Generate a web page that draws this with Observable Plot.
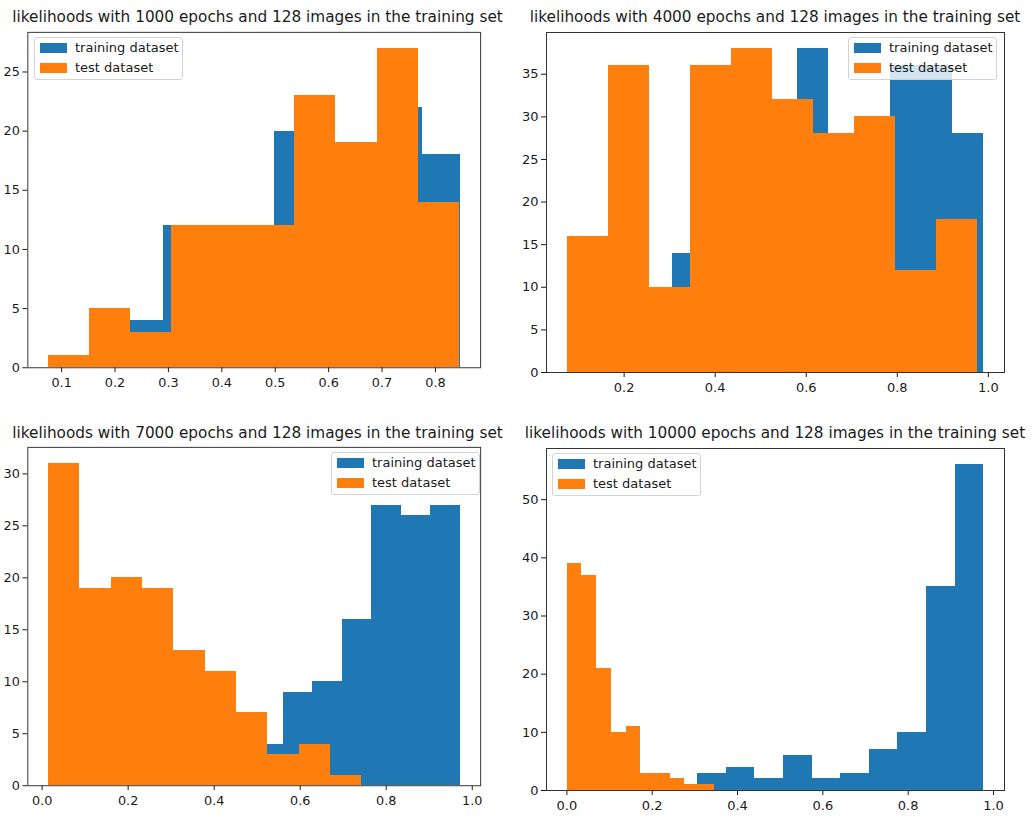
<!DOCTYPE html>
<html><head><meta charset="utf-8">
<script src="https://cdn.jsdelivr.net/npm/d3@7"></script>
<script src="https://cdn.jsdelivr.net/npm/@observablehq/plot@0.6"></script>
<style>
body{margin:0;background:#fff;font-family:"DejaVu Sans",sans-serif;}
#root{position:relative;width:1034px;height:817px;overflow:hidden;background:#fff;}
.panel{position:absolute;overflow:hidden;}
.panel svg{position:absolute;overflow:hidden;}
.title{position:absolute;white-space:nowrap;font-size:15.3px;color:#1a1a1a;line-height:20px;height:20px;transform:translateX(-50%);}
.legend{position:absolute;background:rgba(255,255,255,0.8);border:1px solid #d3d3d3;border-radius:3px;box-sizing:border-box;font-size:13px;color:#1a1a1a;}
.legend .row{position:absolute;left:0;height:14px;line-height:14px;white-space:nowrap;}
.legend .sw{position:absolute;left:5px;top:2px;width:27px;height:10px;}
.legend .lab{position:absolute;left:40px;top:0;}
</style>
</head><body><div id="root"></div>
<script>
// ---- data ----
const titles = [
  "likelihoods with 1000 epochs and 128 images in the training set",
  "likelihoods with 4000 epochs and 128 images in the training set",
  "likelihoods with 7000 epochs and 128 images in the training set",
  "likelihoods with 10000 epochs and 128 images in the training set"
];
const seriesNames = ["training dataset", "test dataset"];
const seriesColors = ["#1f77b4", "#ff7f0e"];

// histogram ranges [min, max] and counts (10 bins each)
const p1TrainRange = [0.152, 0.846];
const p1TrainCounts = [3, 4, 12, 10, 11, 20, 16, 12, 22, 18];
const p1TestRange = [0.0753, 0.8445];
const p1TestCounts = [1, 5, 3, 12, 12, 12, 23, 19, 27, 14];

const p2TrainRange = [0.3067, 0.9897];
const p2TrainCounts = [14, 20, 24, 22, 38, 20, 26, 36, 36, 28];
const p2TestRange = [0.0752, 0.9765];
const p2TestCounts = [16, 36, 10, 36, 38, 32, 28, 30, 12, 18];

const p3TrainRange = [0.2858, 0.9716];
const p3TrainCounts = [2, 3, 4, 4, 9, 10, 16, 27, 26, 27];
const p3TestRange = [0.0146, 0.7433];
const p3TestCounts = [31, 19, 20, 19, 13, 11, 7, 3, 4, 1];

const p4TrainRange = [0.3067, 0.977];
const p4TrainCounts = [3, 4, 2, 6, 2, 3, 7, 10, 35, 56];
const p4TestRange = [0.001, 0.345];
const p4TestCounts = [39, 37, 21, 10, 11, 3, 3, 2, 1, 1];

const p1XTicks = [0.1, 0.2, 0.3, 0.4, 0.5, 0.6, 0.7, 0.8];
const p1YTicks = [0, 5, 10, 15, 20, 25];
const p2XTicks = [0.2, 0.4, 0.6, 0.8, 1.0];
const p2YTicks = [0, 5, 10, 15, 20, 25, 30, 35];
const p3XTicks = [0.0, 0.2, 0.4, 0.6, 0.8, 1.0];
const p3YTicks = [0, 5, 10, 15, 20, 25, 30];
const p4XTicks = [0.0, 0.2, 0.4, 0.6, 0.8, 1.0];
const p4YTicks = [0, 10, 20, 30, 40, 50];

// ---- layout ----
const panels = [
  {title: titles[0], train: [p1TrainRange, p1TrainCounts], test: [p1TestRange, p1TestCounts], xt: p1XTicks, yt: p1YTicks,
   ax: {l: 28, t: 32, r: 487, b: 372}, clip: {x0: 0, y0: 0, x1: 512, y1: 410}, titleY: 17, legend: "left"},
  {title: titles[1], train: [p2TrainRange, p2TrainCounts], test: [p2TestRange, p2TestCounts], xt: p2XTicks, yt: p2YTicks,
   ax: {l: 546, t: 32, r: 1004, b: 372}, clip: {x0: 512, y0: 0, x1: 1034, y1: 410}, titleY: 17, legend: "right"},
  {title: titles[2], train: [p3TrainRange, p3TrainCounts], test: [p3TestRange, p3TestCounts], xt: p3XTicks, yt: p3YTicks,
   ax: {l: 28, t: 447, r: 487, b: 790}, clip: {x0: 0, y0: 412, x1: 512, y1: 817}, titleY: 433, legend: "right"},
  {title: titles[3], train: [p4TrainRange, p4TrainCounts], test: [p4TestRange, p4TestCounts], xt: p4XTicks, yt: p4YTicks,
   ax: {l: 546, t: 448, r: 1004, b: 790}, clip: {x0: 512, y0: 412, x1: 1034, y1: 817}, titleY: 433, legend: "left"}
];

function bins([[lo, hi], counts]) {
  const w = (hi - lo) / counts.length;
  return counts.map((c, i) => ({x1: lo + i * w, x2: lo + (i + 1) * w, y: c}));
}

const root = document.getElementById("root");
const ML = 50, MR = 10, MT = 10, MB = 30;

for (const p of panels) {
  const train = bins(p.train), test = bins(p.test);
  const xmin = Math.min(p.train[0][0], p.test[0][0]);
  const xmax = Math.max(p.train[0][1], p.test[0][1]);
  const pad = (xmax - xmin) * 0.05;
  const ymax = Math.max(...p.train[1], ...p.test[1]) * 1.05;
  const W = p.ax.r - p.ax.l, H = p.ax.b - p.ax.t;

  const panel = document.createElement("div");
  panel.className = "panel";
  Object.assign(panel.style, {left: p.clip.x0 + "px", top: p.clip.y0 + "px",
    width: (p.clip.x1 - p.clip.x0) + "px", height: (p.clip.y1 - p.clip.y0) + "px"});
  root.appendChild(panel);

  const svg = Plot.plot({
    width: W + ML + MR, height: H + MT + MB,
    marginLeft: ML, marginRight: MR, marginTop: MT, marginBottom: MB,
    style: {fontSize: "13px", fontFamily: "DejaVu Sans", color: "#1a1a1a", background: "transparent", overflow: "hidden"},
    x: {domain: [xmin - pad, xmax + pad], ticks: p.xt, tickFormat: d => d.toFixed(1), tickSize: 5, tickPadding: 5, label: null},
    y: {domain: [0, ymax], ticks: p.yt, tickFormat: d => String(d), tickSize: 5, tickPadding: 3, label: null},
    marks: [
      Plot.rect(train, {x1: "x1", x2: "x2", y1: 0, y2: "y", fill: seriesColors[0], shapeRendering: "crispEdges"}),
      Plot.rect(test, {x1: "x1", x2: "x2", y1: 0, y2: "y", fill: seriesColors[1], shapeRendering: "crispEdges"}),
      Plot.frame({stroke: "#333"})
    ]
  });
  svg.style.left = (p.ax.l - ML - p.clip.x0) + "px";
  svg.style.top = (p.ax.t - MT - p.clip.y0) + "px";
  panel.appendChild(svg);

  const t = document.createElement("div");
  t.className = "title";
  t.textContent = p.title;
  t.style.left = ((p.ax.l + p.ax.r) / 2 - p.clip.x0) + "px";
  t.style.top = (p.titleY - 10 - p.clip.y0) + "px";
  panel.appendChild(t);

  const lg = document.createElement("div");
  lg.className = "legend";
  const lw = 149, lh = 43;
  const lx = p.legend === "left" ? p.ax.l + 6 : p.ax.r - 7 - lw;
  Object.assign(lg.style, {left: (lx - p.clip.x0) + "px", top: (p.ax.t + 5 - p.clip.y0) + "px", width: lw + "px", height: lh + "px"});
  seriesNames.forEach((name, i) => {
    const row = document.createElement("div");
    row.className = "row";
    row.style.top = (3 + i * 20) + "px";
    row.innerHTML = `<span class="sw" style="background:${seriesColors[i]}"></span><span class="lab">${name}</span>`;
    lg.appendChild(row);
  });
  panel.appendChild(lg);
}
</script></body></html>
